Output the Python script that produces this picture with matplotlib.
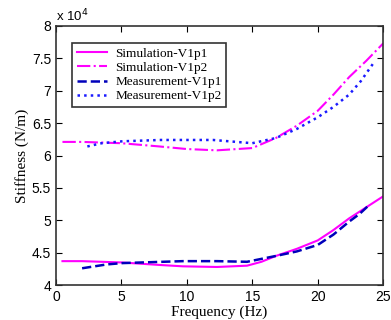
import matplotlib.pyplot as plt
import numpy as np

# Данные (частота, Гц; жёсткость, x1e4 Н/м)
f_sim1 = [0.5, 2.0, 5.0, 8.0, 9.7, 12.3, 14.6, 15.7, 16.8, 18.4, 20.0, 21.2, 22.4, 23.7, 25.0]
k_sim1 = [4.37, 4.37, 4.35, 4.31, 4.29, 4.28, 4.30, 4.36, 4.45, 4.56, 4.69, 4.85, 5.03, 5.20, 5.37]

f_sim2 = [0.5, 2.0, 5.0, 7.9, 10.0, 12.3, 15.0, 16.8, 18.4, 20.0, 21.2, 22.4, 23.7, 25.0]
k_sim2 = [6.21, 6.21, 6.19, 6.14, 6.10, 6.08, 6.115, 6.27, 6.46, 6.69, 6.94, 7.21, 7.46, 7.73]

f_meas1 = [2.0, 3.9, 5.1, 9.7, 12.3, 14.6, 16.8, 18.4, 20.0, 21.2, 22.4, 23.2, 24.0]
k_meas1 = [4.26, 4.32, 4.34, 4.37, 4.37, 4.36, 4.45, 4.52, 4.62, 4.78, 4.98, 5.10, 5.25]

f_meas2 = [2.4, 3.5, 5.1, 8.0, 12.0, 15.0, 16.8, 18.4, 20.0, 21.2, 22.4, 23.3, 24.2]
k_meas2 = [6.14, 6.19, 6.22, 6.24, 6.24, 6.19, 6.27, 6.41, 6.59, 6.75, 6.94, 7.15, 7.41]

serif = 'Liberation Serif'
sans = 'Liberation Sans'

fig = plt.figure(figsize=(3.91, 3.2), dpi=100)
ax = fig.add_axes([0.143, 0.109, 0.837, 0.81])

ax.plot(f_sim1, k_sim1, '-', color='#ff00ff', lw=1.5, label='Simulation-V1p1')
ax.plot(f_sim2, k_sim2, '-.', color='#ff00ff', lw=1.5, label='Simulation-V1p2')
ax.plot(f_meas1, k_meas1, '--', color='#0000bb', lw=1.8, label='Measurement-V1p1')
ax.plot(f_meas2, k_meas2, ':', color='#1a1aff', lw=1.8, label='Measurement-V1p2')

ax.set_xlim(0, 25)
ax.set_ylim(4, 8)
ax.set_xticks([0, 5, 10, 15, 20, 25])
ax.set_yticks([4, 4.5, 5, 5.5, 6, 6.5, 7, 7.5, 8])
ax.set_yticklabels(['4', '4.5', '5', '5.5', '6', '6.5', '7', '7.5', '8'])
ax.tick_params(direction='in', top=True, right=True, length=4, labelsize=10)
for lab in ax.get_xticklabels() + ax.get_yticklabels():
    lab.set_fontfamily(sans)
for s in ax.spines.values():
    s.set_linewidth(1.2)
    s.set_color('#333333')

ax.text(0.0, 1.005, r'x 10$^4$', transform=ax.transAxes, fontsize=9.5,
        family=sans, va='bottom', ha='left')

ax.set_xlabel('Frequency (Hz)', fontsize=11, family=serif, labelpad=1)
ax.set_ylabel('Stiffness (N/m)', fontsize=11, family=serif, labelpad=2)

leg = ax.legend(loc='upper left', bbox_to_anchor=(0.03, 0.96), fancybox=False,
                framealpha=1, edgecolor='#333333', prop={'family': serif, 'size': 9.5},
                handlelength=2.3, labelspacing=0.15, borderpad=0.35, handletextpad=0.6)
leg.get_frame().set_linewidth(1.2)

plt.savefig('out.png', dpi=100)
